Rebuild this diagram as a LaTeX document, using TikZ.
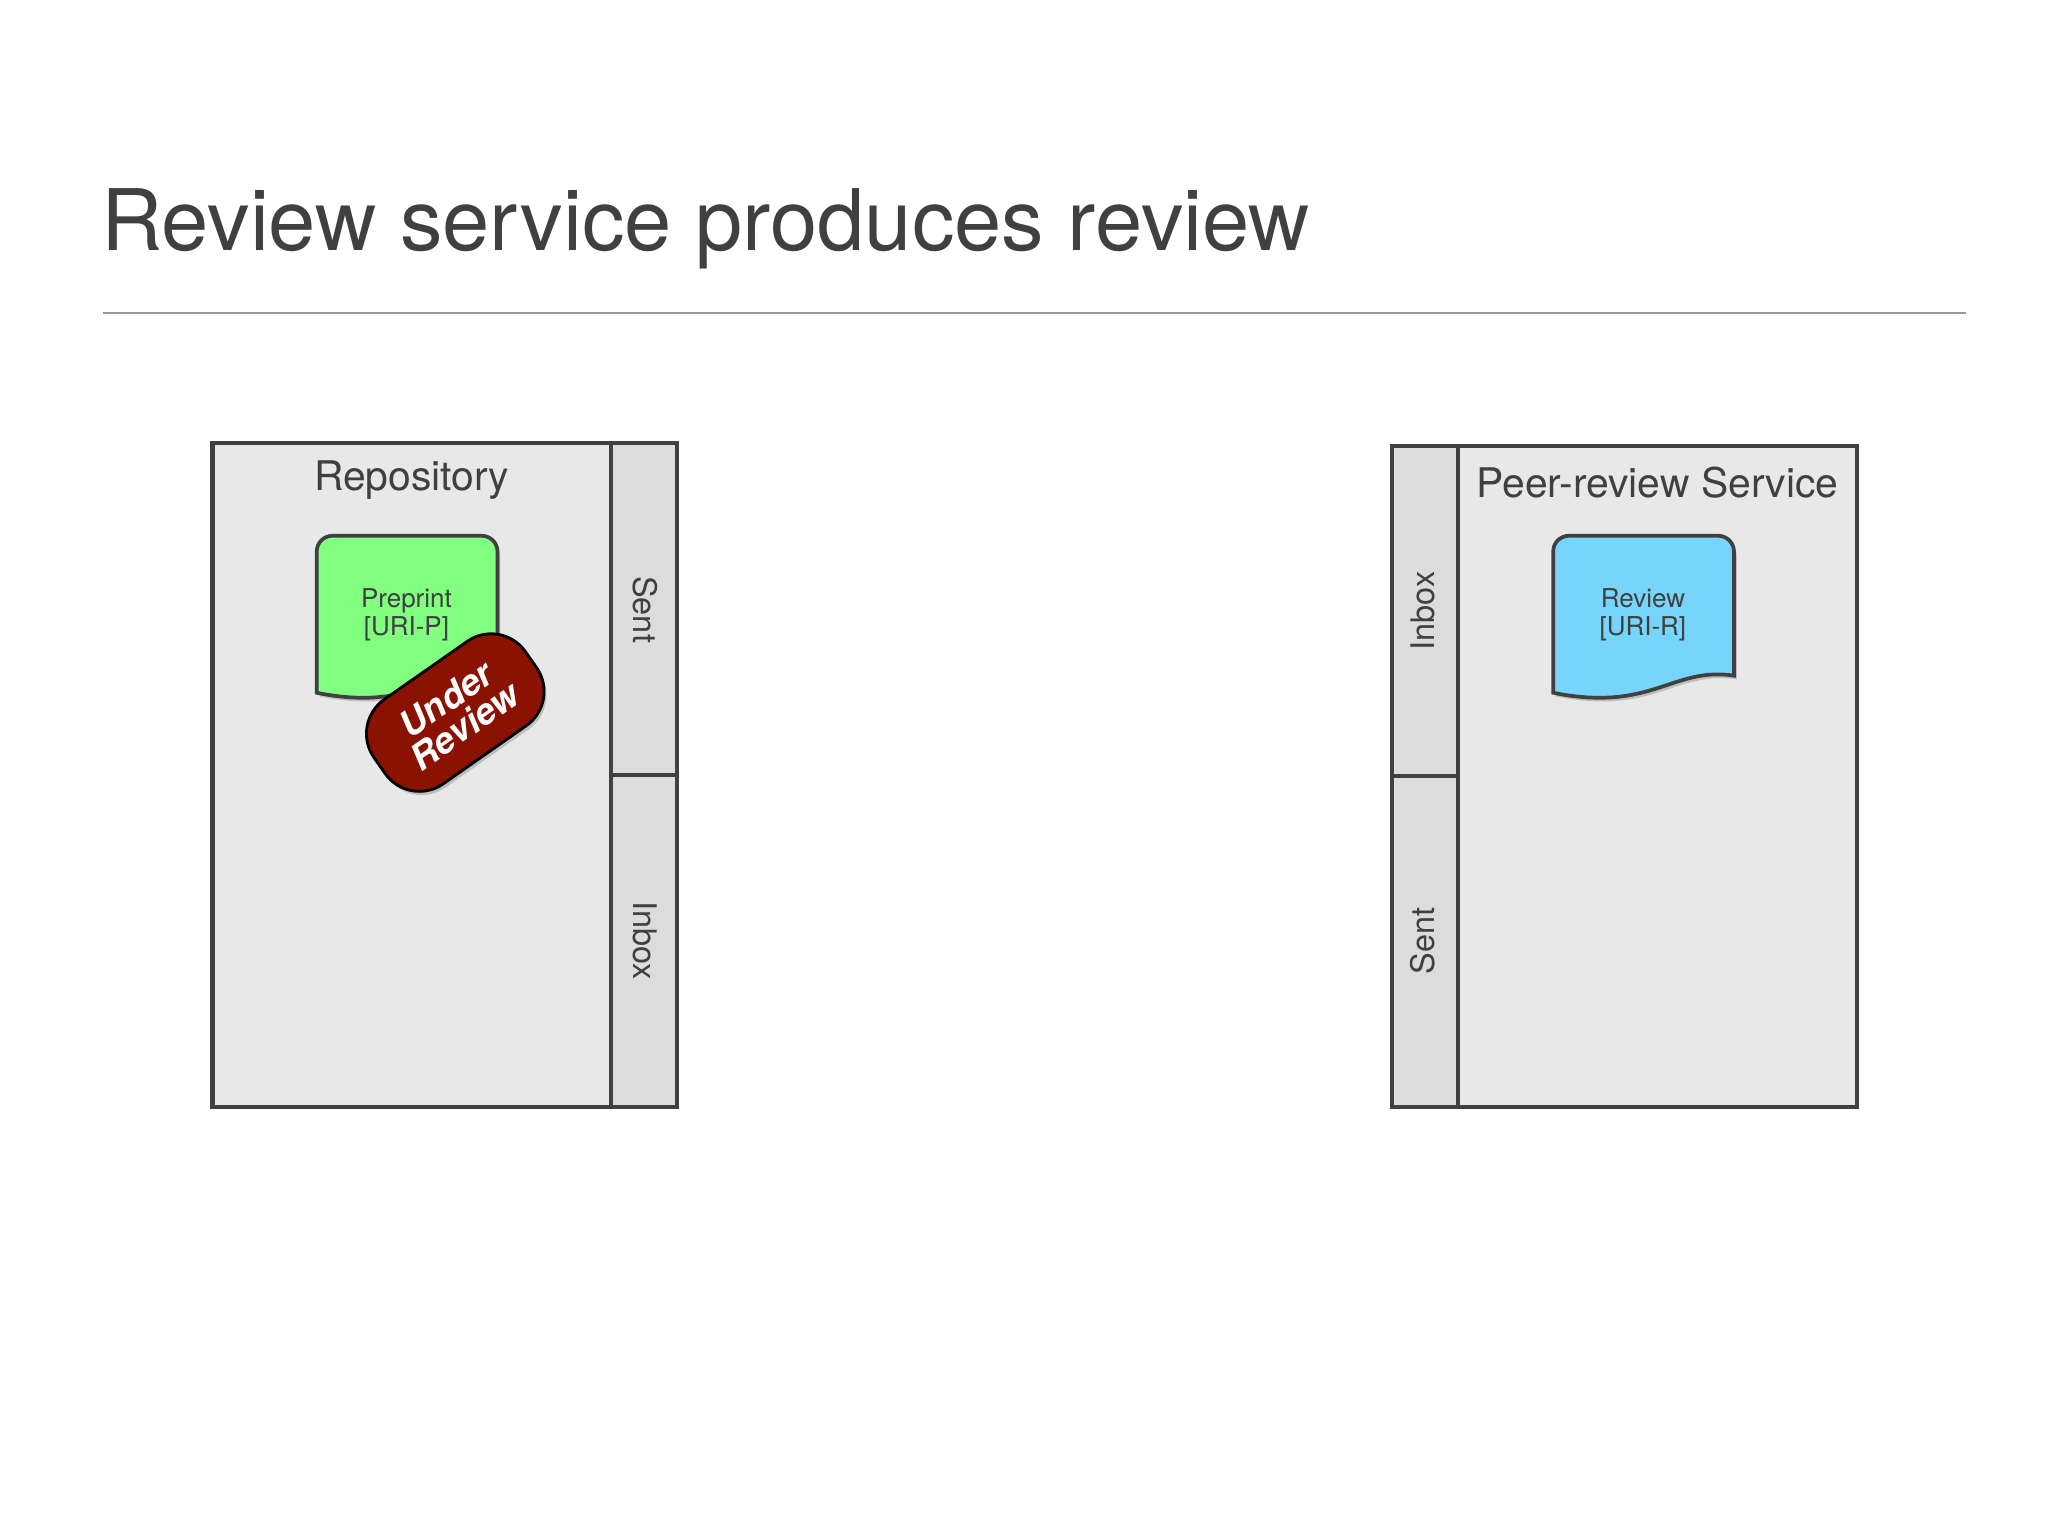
\documentclass[tikz,border=0pt]{standalone}
\usepackage{fontspec}
\setmainfont{TeX Gyre Heros}
\usetikzlibrary{shadows}
\definecolor{txt}{HTML}{404040}
\definecolor{boxfill}{HTML}{E8E8E8}
\definecolor{sidefill}{HTML}{DCDCDC}
\definecolor{docgreen}{HTML}{80FF80}
\definecolor{docblue}{HTML}{77D5FB}
\definecolor{stampred}{HTML}{8B1200}
\begin{document}
\begin{tikzpicture}[x=0.01cm,y=-0.01cm,
  frame/.style={draw=txt,line width=0.9pt},
  sidelabel/.style={text=txt,font=\fontsize{7}{8}\selectfont},
  doctext/.style={text=txt,font=\fontsize{5.6}{7}\selectfont,align=center},
  docshape/.style={draw=txt,line width=0.8pt,drop shadow={shadow xshift=0.6pt,shadow yshift=-0.8pt,opacity=0.4}}]
\useasboundingbox[fill=white] (0,0) rectangle (1552,1164);
\node[anchor=base west,text=txt,font=\fontsize{18.3}{22}\selectfont,inner sep=0] (title) at (76,190) {Review service produces review};
\draw[gray!80,line width=0.4pt] (78,237) coordinate (l1) -- (1490,237) coordinate (l2);
% Repository
\draw[frame,fill=boxfill] (161,336) rectangle (513,839);
\draw[frame,fill=sidefill] (463,336) rectangle (513,839);
\draw[frame] (463,587) -- (513,587);
\node[text=txt,font=\fontsize{8.8}{10}\selectfont] (repo) at (312,364) {Repository};
\node[sidelabel,rotate=-90] (rsent) at (489,462) {Sent};
\node[sidelabel,rotate=-90] (rinbox) at (489,713) {Inbox};
\draw[docshape,fill=docgreen] (240,525) -- (240,418) arc[start angle=180,end angle=270,radius=12] -- (365,406) arc[start angle=270,end angle=360,radius=12] -- (377,512)
  .. controls (330,505) and (315,540) .. (240,525) -- cycle;
\node[doctext] (pre) at (308,466) {Preprint\\[-1pt][URI-P]};
\node[fill=stampred,draw=black,line width=0.6pt,rounded corners=9pt,rotate=35,inner sep=0pt,text=white,font=\bfseries\itshape\fontsize{7.8}{8}\selectfont,align=center,minimum height=0.78cm,minimum width=1.4cm, drop shadow={shadow xshift=0.5pt,shadow yshift=-0.8pt,opacity=0.4}] (stamp) at (345,540) {Under\\[-1pt]Review};
% Peer-review
\draw[frame,fill=boxfill] (1055,338) rectangle (1407,839);
\draw[frame,fill=sidefill] (1055,338) rectangle (1105,839);
\draw[frame] (1055,588) -- (1105,588);
\node[text=txt,font=\fontsize{8.8}{10}\selectfont] (peer) at (1256,366) {Peer-review Service};
\node[sidelabel,rotate=90] (pinbox) at (1078,463) {Inbox};
\node[sidelabel,rotate=90] (psent) at (1078,713) {Sent};
\draw[docshape,fill=docblue] (1177,525) -- (1177,418) arc[start angle=180,end angle=270,radius=12] -- (1302,406) arc[start angle=270,end angle=360,radius=12] -- (1314,512)
  .. controls (1267,505) and (1252,540) .. (1177,525) -- cycle;
\node[doctext] (rev) at (1245,466) {Review\\[-1pt][URI-R]};
\end{tikzpicture}
\end{document}
